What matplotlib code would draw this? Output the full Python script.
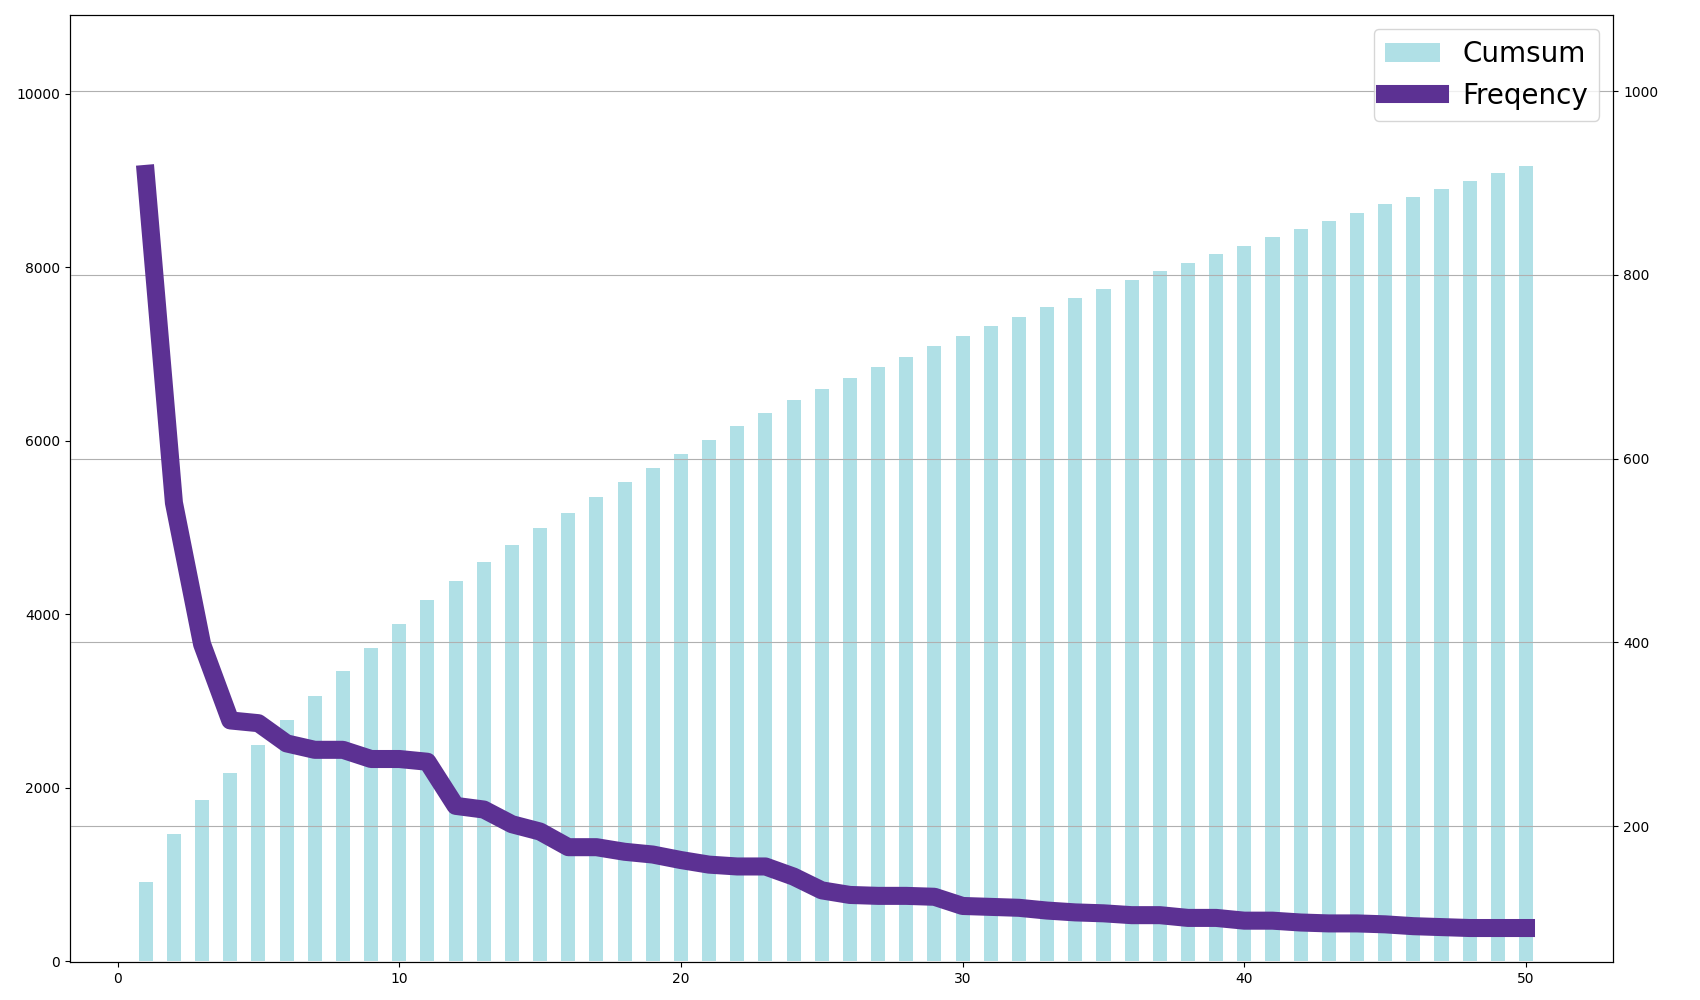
import numpy as np
import matplotlib
matplotlib.use("Agg")
import matplotlib.pyplot as plt

ranks = list(range(1, 51))
frequency = [910, 552, 398, 315, 312, 290, 283, 283, 273, 273,
             270, 222, 218, 202, 194, 177, 177, 172, 169, 163,
             158, 156, 156, 145, 130, 125, 124, 124, 123, 113,
             112, 111, 108, 106, 105, 103, 103, 100, 100, 97,
             97, 95, 94, 94, 93, 91, 90, 89, 89, 89]
cumsum = np.cumsum(frequency)

fig = plt.figure(figsize=(17, 10), dpi=100)
ax = fig.add_axes([0.041, 0.038, 0.908, 0.947])
b = ax.bar(ranks, cumsum, width=0.5, color="powderblue", label="Cumsum")
ax.set_xlim(-1.7, 53.1)
ax.set_ylim(-10, 10910)
ax.set_yticks(range(0, 10001, 2000))

ax2 = ax.twinx()
l, = ax2.plot(ranks, frequency, color="#5c3193", linewidth=13, label="Freqency")
ax2.set_ylim(52, 1083)
ax2.set_yticks(range(200, 1001, 200))
ax2.grid(True, axis="y", color="#b0b0b0")

ax2.legend([b, l], ["Cumsum", "Freqency"], loc="upper right", fontsize=20)
fig.savefig("out.png")
